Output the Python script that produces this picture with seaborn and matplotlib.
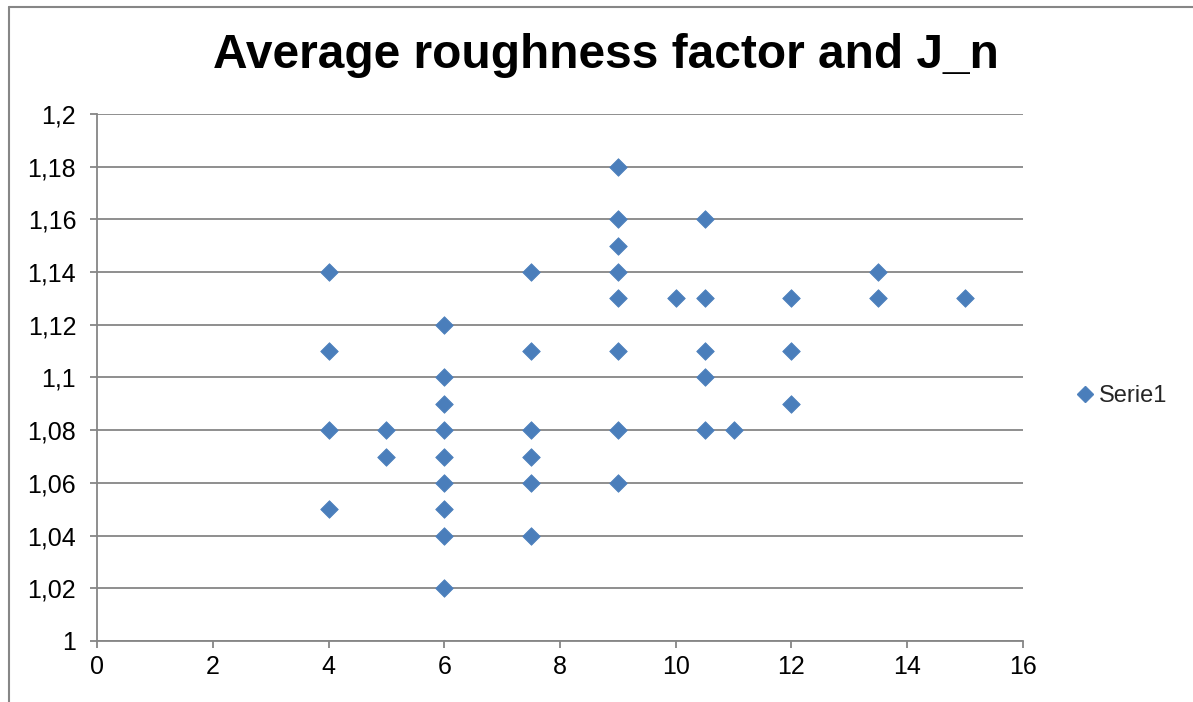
import matplotlib
matplotlib.use("Agg")
import matplotlib.pyplot as plt
from matplotlib.lines import Line2D
from matplotlib.ticker import FuncFormatter, MultipleLocator
import seaborn as sns
import pandas as pd

# Joint set number J_n and the measured average roughness factor
jn = [4, 4, 4, 4,
      5, 5,
      6, 6, 6, 6, 6, 6, 6, 6, 6,
      7.5, 7.5, 7.5, 7.5, 7.5, 7.5,
      9, 9, 9, 9, 9, 9, 9, 9,
      10,
      10.5, 10.5, 10.5, 10.5, 10.5,
      11,
      12, 12, 12,
      13.5, 13.5,
      15]
roughness = [1.14, 1.11, 1.08, 1.05,
             1.08, 1.07,
             1.12, 1.10, 1.09, 1.08, 1.07, 1.06, 1.05, 1.04, 1.02,
             1.14, 1.11, 1.08, 1.07, 1.06, 1.04,
             1.18, 1.16, 1.15, 1.14, 1.13, 1.11, 1.08, 1.06,
             1.13,
             1.16, 1.13, 1.11, 1.10, 1.08,
             1.08,
             1.13, 1.11, 1.09,
             1.14, 1.13,
             1.13]
series_name = "Serie1"
title = "Average roughness factor and J_n"

df = pd.DataFrame({"J_n": jn, "roughness": roughness})

sns.set_style("white")
plt.rcParams["font.family"] = ["Liberation Sans", "DejaVu Sans"]

W, H = 1193, 702
fig = plt.figure(figsize=(W / 100, H / 100), dpi=100)
ax = fig.add_axes([97 / W, 1 - 641 / H, (1023 - 97) / W, (641 - 114) / H])

grid_col = "#868686"
marker_col = "#4A7EBB"

sns.scatterplot(data=df, x="J_n", y="roughness", ax=ax, marker="D", s=80,
                color=marker_col, edgecolor="#4F81BD", linewidth=0.6,
                legend=False, zorder=3)

ax.set_xlim(0, 16)
ax.set_ylim(1.0, 1.2)
ax.xaxis.set_major_locator(MultipleLocator(2))
ax.yaxis.set_major_locator(MultipleLocator(0.02))


def comma_fmt(v, _):
    s = f"{v:.2f}".rstrip("0").rstrip(".")
    return s.replace(".", ",")


ax.yaxis.set_major_formatter(FuncFormatter(comma_fmt))
ax.xaxis.set_major_formatter(FuncFormatter(lambda v, _: f"{int(round(v))}"))

ax.grid(axis="y", color=grid_col, linewidth=1.3)
ax.set_axisbelow(True)
for side in ("top", "right"):
    ax.spines[side].set_visible(False)
for side in ("left", "bottom"):
    ax.spines[side].set_color(grid_col)
    ax.spines[side].set_linewidth(1.3)

ax.tick_params(axis="both", which="major", direction="out", length=5,
               width=1.3, color=grid_col, labelsize=18, labelcolor="black",
               left=True, bottom=True)
ax.tick_params(axis="y", pad=10)
ax.tick_params(axis="x", pad=5)
ax.set_xlabel("")
ax.set_ylabel("")

fig.text(606 / W, 1 - 56 / H, title, ha="center", va="center",
         fontsize=34.5, fontweight="bold", color="black")

handle = Line2D([], [], linestyle="none", marker="D", markersize=8.5,
                markerfacecolor=marker_col, markeredgecolor="#4F81BD")
fig.legend([handle], [series_name], loc="center left",
           bbox_to_anchor=(1076 / W, 1 - 396 / H), frameon=False,
           fontsize=17, handlelength=0.8, handletextpad=0.15,
           borderaxespad=0, borderpad=0)

# Outer chart-area frame (left and top edges)
fig.add_artist(Line2D([8.5 / W, 8.5 / W], [0, 1 - 6.5 / H],
                      transform=fig.transFigure, color=grid_col, lw=1.5))
fig.add_artist(Line2D([8.5 / W, 1], [1 - 6.5 / H, 1 - 6.5 / H],
                      transform=fig.transFigure, color=grid_col, lw=1.5))

fig.savefig("out.png", dpi=100, facecolor="white")
